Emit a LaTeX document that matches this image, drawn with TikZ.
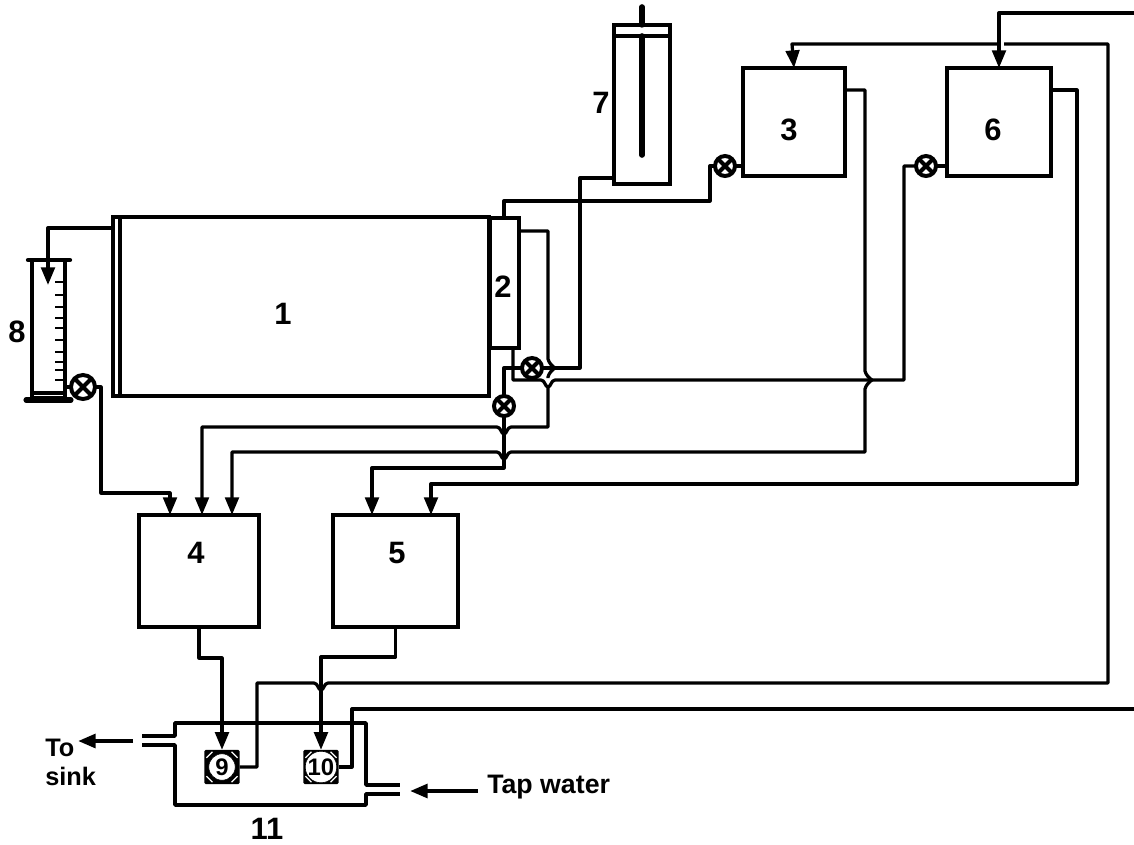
\documentclass[tikz,border=0pt]{standalone}
\usepackage{fontspec}
\setmainfont{Liberation Sans}
\usetikzlibrary{arrows.meta}
\newcommand{\notch}[2]{-- (#1-7,#2) .. controls (#1-3,#2) and (#1-3,#2+7) .. (#1,#2+7) .. controls (#1+3,#2+7) and (#1+3,#2) .. (#1+7,#2)}
\newcommand{\bulge}[2]{-- (#1,#2+9) .. controls (#1+1,#2+5) and (#1+4,#2+2) .. (#1+7,#2) .. controls (#1+4,#2-2) and (#1+1,#2-5) .. (#1,#2-9)}
\tikzset{
  tank/.style={draw, line width=2.7pt, fill=white, inner sep=0pt, outer sep=0pt},
  wall/.style={line width=2.7pt, line join=round},
  pipe/.style={line width=2.3pt, line join=round, >={Triangle[length=0.44cm, width=0.34cm]}},
  valve/.style={circle, draw, fill=white, line width=2.8pt, minimum size=0.5cm, inner sep=0pt, outer sep=0pt,
    path picture={\draw[line width=2.8pt] (path picture bounding box.north west) -- (path picture bounding box.south east)
      (path picture bounding box.north east) -- (path picture bounding box.south west);}},
  pumpbox/.style={fill=black, rounded corners=1pt, minimum width=0.88cm, minimum height=0.86cm, inner sep=0pt, outer sep=0pt,
    path picture={\draw[white, line width=0.9pt]
      ([shift={(0.05cm,-0.2cm)}]path picture bounding box.north west) -- ([shift={(0.2cm,-0.05cm)}]path picture bounding box.north west)
      ([shift={(-0.05cm,-0.2cm)}]path picture bounding box.north east) -- ([shift={(-0.2cm,-0.05cm)}]path picture bounding box.north east)
      ([shift={(0.05cm,0.2cm)}]path picture bounding box.south west) -- ([shift={(0.2cm,0.05cm)}]path picture bounding box.south west)
      ([shift={(-0.05cm,0.2cm)}]path picture bounding box.south east) -- ([shift={(-0.2cm,0.05cm)}]path picture bounding box.south east);}},
  pumpface/.style={circle, fill=white, draw=black, minimum size=0.66cm, inner sep=0pt, font=\bfseries\fontsize{17}{20}\selectfont},
  tag/.style={inner sep=0pt, font=\bfseries\fontsize{22}{26}\selectfont},
  note/.style={inner sep=0pt, anchor=west, font=\bfseries\fontsize{18}{22}\selectfont}
}
\begin{document}
\begin{tikzpicture}[x=0.025cm, y=-0.025cm]
    \useasboundingbox (0,0) rectangle (1134,844);

    % Column and head
    \node[tank, minimum width=9.4cm, minimum height=4.47cm] (box1) at (301,306.5) {};
    \draw[wall] (120,0 |- box1.north) -- (120,0 |- box1.south);
    \node[tank, minimum width=0.72cm, minimum height=3.25cm] (box2) at (504.5,283) {};
    \node[tag] (lab1) at (283,314) {1};
    \node[tag] (lab2) at (503,287) {2};

    % Upper tanks
    \node[tank, minimum width=2.55cm, minimum height=2.7cm] (box3) at (794,122) {};
    \node[tank, minimum width=2.6cm, minimum height=2.7cm] (box6) at (999,122) {};
    \node[tag] (lab3) at (789,130) {3};
    \node[tag] (lab6) at (993,130) {6};

    % Lower tanks
    \node[tank, minimum width=3cm, minimum height=2.8cm] (box4) at (199,571) {};
    \node[tank, minimum width=3.12cm, minimum height=2.8cm] (box5) at (395.5,571) {};
    \node[tag] (lab4) at (196,553) {4};
    \node[tag] (lab5) at (397,553) {5};

    % Piston unit
    \node[tank, minimum width=1.41cm, minimum height=3.98cm] (box7) at (642,104.5) {};
    \node[tag] (lab7) at (601,103) {7};
    \coordinate (rodtop) at (642,7);
    \coordinate (capleft) at (614,36);
    \coordinate (capright) at (670,36);
    \coordinate (rodin) at (642,36);
    \coordinate (rodend) at (642,155);
    \draw[line width=4pt, line cap=round] (rodtop) -- (box7.north);
    \draw[wall] (capleft) -- (capright);
    \draw[line width=4pt, line cap=round] (rodin) -- (rodend);

    % Measuring cylinder
    \node[tank, minimum width=0.82cm, minimum height=3.45cm] (box8) at (48.5,329) {};
    \node[tag] (lab8) at (17,332) {8};
    \draw[wall, line width=3pt, line cap=round] (28,260) -- (70,260);
    \draw[wall, line width=3.6pt, line cap=round] (26,400) -- (71,400);
    \draw[wall] (32,393) -- (65,393);
    \draw[wall, line width=2pt] (55,282) -- (65,282) (55,295) -- (65,295) (55,307) -- (65,307);
    \draw[wall, line width=2pt] (55,318) -- (65,318) (55,328) -- (65,328) (55,340) -- (65,340);
    \draw[wall, line width=2pt] (55,352) -- (65,352) (55,362) -- (65,362) (55,370) -- (65,370) (55,380) -- (65,380);

    % Valves
    \node[valve, minimum size=0.6cm] (valve8) at (83,387) {};
    \node[valve] (valveA) at (532,368) {};
    \node[valve] (valveB) at (504,406) {};
    \node[valve] (valve3) at (725,166) {};
    \node[valve] (valve6) at (926,166) {};

    % Bath
    \draw[wall] (142,736) -- (175,736) -- (175,723) -- (366,723) -- (366,785) -- (400,785);
    \draw[wall] (142,745) -- (175,745) -- (175,805) -- (366,805) -- (366,794) -- (400,794);
    \node[tag] (lab11) at (267,829) {11};

    % Pumps
    \node[pumpbox] (pump9) at (222,767) {};
    \node[pumpface] (face9) at (pump9) {9};
    \node[pumpbox] (pump10) at (321,767) {};
    \node[pumpface] (face10) at (pump10) {10};

    % Connections from column
    \draw[pipe,->] (113,228) -- (48,228) -- (48,285);
    \draw[pipe] (504,0 |- box2.north) -- (504,201) -- (710,201) -- (710,166) -- (valve3);
    \draw[pipe] (valve3) -- (box3.west |- valve3);
    \draw[pipe] (513,0 |- box2.south) -- (513,380) \notch{548}{380} -- (904,380) -- (904,166) -- (valve6);
    \draw[pipe] (valve6) -- (box6.west |- valve6);
    \draw[pipe] (box7.west |- 0,178) -- (580,178) -- (580,368) -- (valveA);
    \draw[pipe] (valveA) -- (504,368) -- (valveB);
    \draw[pipe,->] (valveB) -- (504,468) -- (372,468) -- (372,0 |- box5.north);
    \draw[pipe,<-] (202,0 |- box4.north) -- (202,427) \notch{504}{427} -- (548,427) -- (548,386);
    \draw[pipe] (548,378) \bulge{548}{368} -- (548,231) -- (box2.east |- 0,231);

    % Connections from cylinder
    \draw[pipe] (box8.east |- valve8) -- (valve8);
    \draw[pipe,->] (valve8) -- (101,387) -- (101,493) -- (170,493) -- (170,0 |- box4.north);

    % Connections from upper tanks
    \draw[pipe,<-] (232,0 |- box4.north) -- (232,452) \notch{504}{452} -- (865,452) \bulge{865}{380} -- (865,90) -- (box3.east |- 0,90);
    \draw[pipe,<-] (431,0 |- box5.north) -- (431,484) -- (1077,484) -- (1077,90) -- (box6.east |- 0,90);

    % Connections to pumps
    \draw[pipe,->] (box4.south) -- (199,658) -- (222,658) -- (pump9.north);
    \draw[pipe,->] (box5.south) -- (395.5,657) -- (321,657) -- (pump10.north);

    % Connections from pumps
    \draw[pipe] (pump9.east) -- (257,767) -- (257,683) \notch{321}{683} -- (1108,683) -- (1108,44) -- (1004,44);
    \draw[pipe,->] (998,44) -- (792,44) -- (box3.north);
    \draw[pipe] (pump10.east) -- (352,767) -- (352,709) -- (1134,709);
    \draw[pipe,->] (1134,13) -- (999,13) -- (box6.north);

    % Drain and supply
    \coordinate (sinkin) at (133,741);
    \coordinate (sinkout) at (78,741);
    \coordinate (tapin) at (478,791);
    \coordinate (tapout) at (410,791);
    \draw[pipe,line width=2.8pt,->] (sinkin) -- (sinkout);
    \draw[pipe,line width=2.8pt,->] (tapin) -- (tapout);
    \node[note] (labto) at (45,748) {To};
    \node[note] (labsink) at (45,776) {sink};
    \node[note, font=\bfseries\fontsize{19}{22}\selectfont] (labtap) at (487,787) {Tap water};
\end{tikzpicture}
\end{document}
